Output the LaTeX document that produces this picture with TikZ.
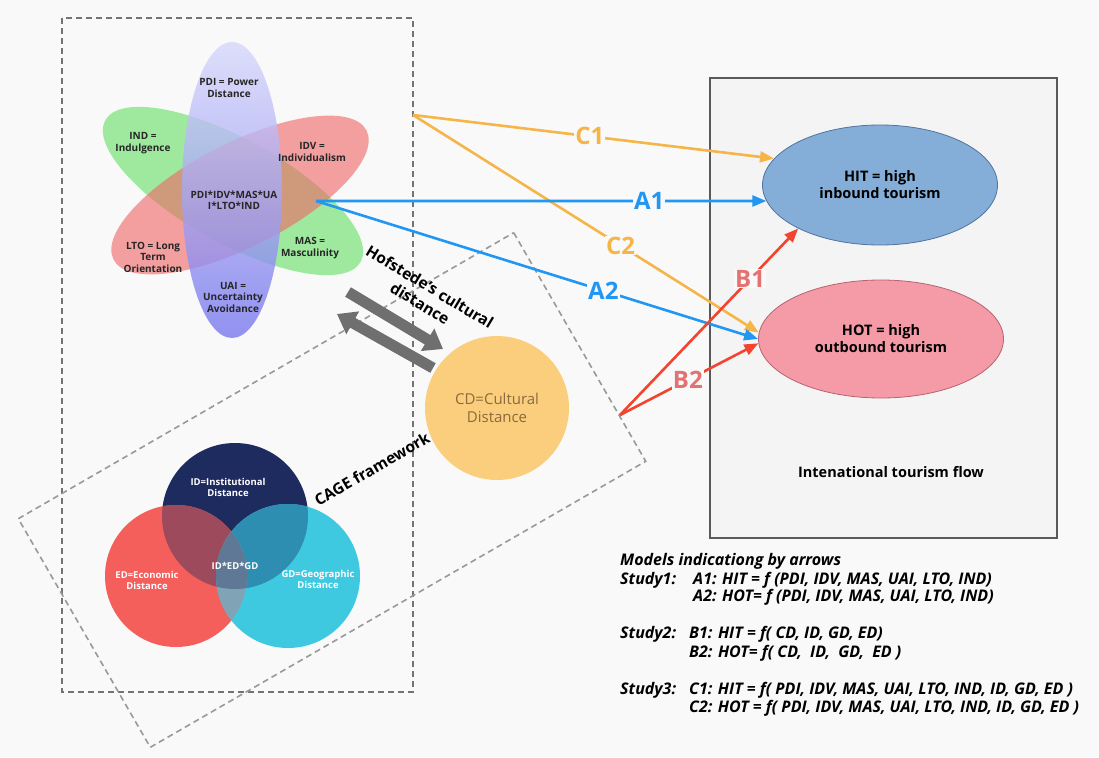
\documentclass[tikz,border=0pt]{standalone}
\usepackage{fontspec}
\setmainfont{Open Sans}
\setsansfont{Open Sans}
\usetikzlibrary{arrows.meta,shapes.geometric}
\definecolor{bg}{HTML}{F9F9F9}
\definecolor{boxfill}{HTML}{F4F4F4}
\definecolor{hitc}{HTML}{84ADD7}
\definecolor{hitb}{HTML}{4F74A0}
\definecolor{hotc}{HTML}{F59AA7}
\definecolor{hotb}{HTML}{B86470}
\definecolor{cdc}{HTML}{FBCE7D}
\definecolor{cdtext}{HTML}{8A6A3E}
\definecolor{idc}{HTML}{1E2B5E}
\definecolor{edc}{HTML}{F45E5B}
\definecolor{gdc}{HTML}{3FC9E0}
\definecolor{ided}{HTML}{9C4A5C}
\definecolor{idgd}{HTML}{2E8EB2}
\definecolor{edgd}{HTML}{80A4B5}
\definecolor{tri}{HTML}{5F7896}
\definecolor{corange}{HTML}{F5B548}
\definecolor{cblue}{HTML}{2196F3}
\definecolor{cred}{HTML}{F2442E}
\definecolor{lblred}{HTML}{E57272}
\definecolor{garrow}{HTML}{6F6F6F}
\definecolor{lobegreen}{RGB}{110,225,110}
\definecolor{lobered}{RGB}{240,100,100}
\definecolor{lobeblue}{RGB}{120,120,238}
\definecolor{lobebluetop}{RGB}{215,215,252}
\begin{document}
\begin{tikzpicture}[x=1pt,y=-1pt,
  flowtxt/.style={font=\fontsize{10}{11.5}\selectfont\bfseries, align=center, text=black!85, inner sep=0pt},
  vtxt/.style={font=\fontsize{9.5}{11}\selectfont\bfseries, align=center, text=white, inner sep=0pt},
  lbl/.style={font=\fontsize{24}{26}\selectfont\bfseries, fill=bg, inner sep=1pt},
  conn/.style={line width=2.6pt, -{Triangle[length=14pt,width=11pt]}},
  grayarr/.style={line width=11pt, garrow, -{Triangle[length=18pt,width=25pt]}},
  dashbox/.style={line width=1.6pt, dash pattern=on 6pt off 4pt},
  model/.style={font=\fontsize{16}{17}\selectfont\bfseries\itshape, anchor=west, inner sep=0pt},
  oval/.style={ellipse, inner sep=0pt, line width=0.8pt, font=\fontsize{14.5}{17}\selectfont\bfseries, align=center},
  venn/.style={circle, inner sep=0pt},
  rotlbl/.style={font=\fontsize{15.5}{19}\selectfont\bfseries, align=center, inner sep=0pt}
]
\useasboundingbox (0,0) rectangle (1099,757);
\fill[bg] (0,0) rectangle (1099,757);

% right box
\node[draw=black!65, fill=boxfill, line width=1.2pt, minimum width=347pt, minimum height=460pt, inner sep=0pt] (flowbox) at (883.5,308) {};
\node[font=\fontsize{14.5}{17}\selectfont\bfseries] (flowlbl) at (891,472) {Intenational tourism flow};

% dashed boxes
\draw[dashbox, black!55] (62,18) rectangle (413,692);
\draw[dashbox, black!40] (513.7,232.7) -- (645.7,461.3) -- (150.3,747.3) -- (18.3,518.7) -- cycle;

% flower
\fill[lobegreen, fill opacity=0.65, rotate around={-29:(233,191)}] (233,191) ellipse [x radius=146pt, y radius=52pt];
\fill[lobered, fill opacity=0.6, rotate around={27:(240,195)}] (240,195) ellipse [x radius=142pt, y radius=52pt];
\shade[top color=lobebluetop, bottom color=lobeblue, fill opacity=0.8] (232,190) ellipse [x radius=50pt, y radius=148pt];

\node[flowtxt] (pdi) at (229,88) {PDI = Power\\Distance};
\node[flowtxt] (ind) at (143,143) {IND =\\Indulgence};
\node[flowtxt] (idv) at (312,152) {IDV =\\Individualism};
\node[flowtxt] (prod) at (234,200) {PDI*IDV*MAS*UA\\I*LTO*IND};
\node[flowtxt] (lto) at (153,257) {LTO = Long\\Term\\Orientation};
\node[flowtxt] (mas) at (310,248) {MAS =\\Masculinity};
\node[flowtxt] (uai) at (233,297) {UAI =\\Uncertainty\\Avoidance};
\coordinate (flowR) at (316,201);
\coordinate (cstart) at (413,115);
\coordinate (bstart) at (620,415);

% venn
\node[venn, fill=idc, minimum size=146pt] (ID) at (235,516) {};
\node[venn, fill=edc, minimum size=142pt] (ED) at (176,576) {};
\node[venn, fill=gdc, minimum size=144pt] (GD) at (288,576) {};
\begin{scope}
  \clip (235,516) circle [radius=73pt];
  \fill[ided] (176,576) circle [radius=71pt];
  \fill[idgd] (288,576) circle [radius=72pt];
  \clip (176,576) circle [radius=71pt];
  \fill[tri] (288,576) circle [radius=72pt];
\end{scope}
\begin{scope}
  \clip (176,576) circle [radius=71pt];
  \clip (288,576) circle [radius=72pt];
  \fill[edgd] (0,520) rectangle (400,700);
  \clip (235,516) circle [radius=73pt];
  \fill[tri] (0,400) rectangle (400,700);
\end{scope}
\node[vtxt] (idl) at (228,487) {ID=Institutional\\Distance};
\node[vtxt] (edl) at (147,580) {ED=Economic\\Distance};
\node[vtxt] (gdl) at (318,579) {GD=Geographic\\Distance};
\node[vtxt] (tril) at (235,566) {ID*ED*GD};

% cultural distance
\node[circle, fill=cdc, minimum size=144pt, inner sep=0pt, text=cdtext, align=center, font=\fontsize{15}{18}\selectfont] (CD) at (497,408) {CD=Cultural\\Distance};

% gray arrows
\coordinate (g1s) at (348,292);
\coordinate (g1e) at (443,349);
\coordinate (g2s) at (433,368);
\coordinate (g2e) at (337,314);
\draw[grayarr] (g1s) -- (g1e);
\draw[grayarr] (g2s) -- (g2e);

\node[rotlbl, rotate=-31] (hof) at (425,295) {Hofstede's cultural\\distance};
\node[rotlbl, rotate=30] (cage) at (372,469) {CAGE framework};

% tourism ovals
\node[oval, fill=hitc, draw=hitb, minimum width=235pt, minimum height=120pt] (HIT) at (880,185) {HIT = high\\inbound tourism};
\node[oval, fill=hotc, draw=hotb, minimum width=245pt, minimum height=118pt] (HOT) at (881,339) {HOT = high\\outbound tourism};

% connectors
\draw[conn, corange] (cstart) -- node[lbl, text=corange, pos=0.49] {C1} (HIT.166);
\draw[conn, corange] (cstart) -- node[lbl, text=corange, pos=0.60] {C2} (HOT.177);
\draw[conn, cblue] (flowR) -- node[lbl, text=cblue, pos=0.74] {A1} (HIT.188);
\draw[conn, cblue] (flowR) -- node[lbl, text=cblue, pos=0.65] {A2} (HOT.west);
\draw[conn, cred] (bstart) -- node[lbl, text=lblred, pos=0.73] {B1} (HIT.208);
\draw[conn, cred] (bstart) -- node[lbl, text=lblred, pos=0.49] {B2} (HOT.182);

% models text
\node[model] (m0) at (620,561) {Models indicationg by arrows};
\node[model] (s1) at (620,580) {Study1:};
\node[model] (a1) at (693,580) {A1: HIT = f (PDI, IDV, MAS, UAI, LTO, IND)};
\node[model] (a2) at (693,597) {A2: HOT= f (PDI, IDV, MAS, UAI, LTO, IND)};
\node[model] (s2) at (620,634) {Study2:};
\node[model] (b1) at (689,634) {B1: HIT = f( CD, ID, GD, ED)};
\node[model] (b2) at (689,653) {B2: HOT= f( CD,\ \ ID,\ \ GD,\ \ ED )};
\node[model] (s3) at (620,690) {Study3:};
\node[model] (c1) at (689,690) {C1: HIT = f( PDI, IDV, MAS, UAI, LTO, IND, ID, GD, ED )};
\node[model] (c2) at (689,708) {C2: HOT = f( PDI, IDV, MAS, UAI, LTO, IND, ID, GD, ED )};
\end{tikzpicture}
\end{document}
